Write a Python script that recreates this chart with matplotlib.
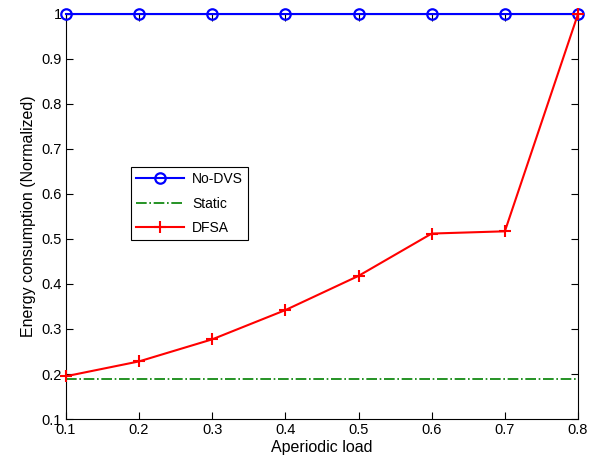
import matplotlib
matplotlib.use("Agg")
import matplotlib.pyplot as plt

plt.rcParams['font.family'] = ['Liberation Sans', 'DejaVu Sans']

load = [0.1, 0.2, 0.3, 0.4, 0.5, 0.6, 0.7, 0.8]
no_dvs = [1, 1, 1, 1, 1, 1, 1, 1]
static = [0.19, 0.19, 0.19, 0.19, 0.19, 0.19, 0.19, 0.19]
dfsa = [0.195, 0.228, 0.277, 0.342, 0.418, 0.512, 0.517, 1.0]

fig = plt.figure(figsize=(5.99, 4.63), dpi=100)
ax = fig.add_axes([0.110, 0.095, 0.855, 0.875])

ax.plot(load, no_dvs, color='#0000ff', marker='o', markersize=7.5, markerfacecolor='none',
        markeredgewidth=1.6, linewidth=1.5, label='No-DVS', clip_on=False, zorder=5)
ax.plot(load, static, color='#008000', linestyle='-.', linewidth=1.2, label='Static')
ax.plot(load, dfsa, color='#ff0000', marker='+', markersize=9, markeredgewidth=1.5,
        linewidth=1.5, label='DFSA', clip_on=False, zorder=6)

ax.set_xlim(0.1, 0.8)
ax.set_ylim(0.1, 1.0)
ax.set_xticks(load)
ax.set_xticklabels(['0.1', '0.2', '0.3', '0.4', '0.5', '0.6', '0.7', '0.8'])
ax.set_yticks([0.1, 0.2, 0.3, 0.4, 0.5, 0.6, 0.7, 0.8, 0.9, 1.0])
ax.set_yticklabels(['0.1', '0.2', '0.3', '0.4', '0.5', '0.6', '0.7', '0.8', '0.9', '1'])
ax.tick_params(direction='in', top=True, right=True, labelsize=10.5, length=5, pad=3)
ax.set_xlabel('Aperiodic load', fontsize=11.5, labelpad=2)
ax.set_ylabel('Energy consumption (Normalized)', fontsize=11.5, labelpad=4)

leg = ax.legend(loc='lower left', bbox_to_anchor=(0.128, 0.442), fontsize=10, fancybox=False,
                framealpha=1, edgecolor='black', borderpad=0.35, handlelength=3.4,
                handletextpad=0.6, labelspacing=0.75, borderaxespad=0)
leg.get_frame().set_linewidth(0.8)

fig.savefig('out.png', dpi=100)
